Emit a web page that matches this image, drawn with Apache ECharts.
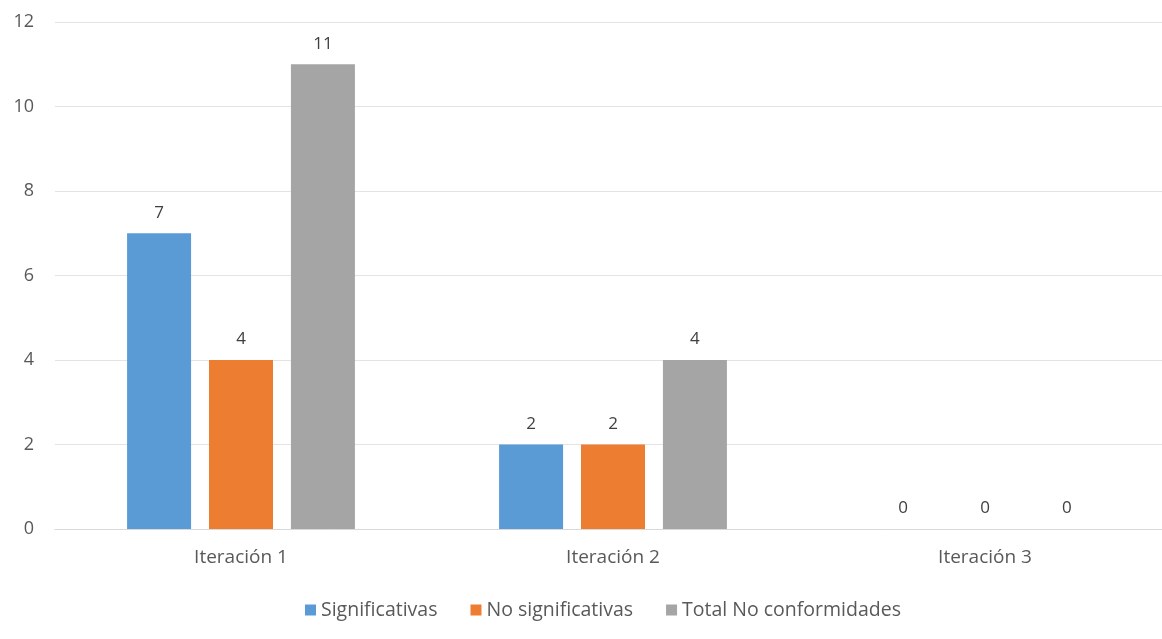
<!DOCTYPE html>
<html>
<head>
<meta charset="utf-8">
<script src="https://cdn.jsdelivr.net/npm/echarts@6/dist/echarts.min.js"></script>
<style>
  html, body { margin: 0; padding: 0; background: #fff; }
  #chart { width: 1162px; height: 639px; }
</style>
</head>
<body>
<div id="chart"></div>
<script>
const categories = ['Iteración 1', 'Iteración 2', 'Iteración 3'];
const significativas = [7, 2, 0];
const noSignificativas = [4, 2, 0];
const totalNoConformidades = [11, 4, 0];
const seriesNames = ['Significativas', 'No significativas', 'Total No conformidades'];
const colors = ['#5b9bd5', '#ed7d31', '#a5a5a5'];

const font = '"Open Sans", "Noto Sans", sans-serif';
const chart = echarts.init(document.getElementById('chart'));

const mkSeries = (name, data, color) => ({
  name, type: 'bar', data,
  barWidth: 64,
  barGap: '28%',
  itemStyle: { color },
  label: {
    show: true, position: 'top', distance: 12,
    color: '#404040', fontFamily: font, fontSize: 17
  }
});

chart.setOption({
  animation: false,
  textStyle: { fontFamily: font },
  // plot area runs a little past the right edge of the canvas
  grid: { left: 55, width: 1116, top: 22, height: 507, outerBoundsMode: 'none' },
  legend: {
    top: 595, left: 300,
    itemWidth: 11, itemHeight: 11, itemGap: 33,
    icon: 'rect',
    textStyle: { color: '#595959', fontSize: 19.5, fontFamily: font },
    data: seriesNames
  },
  xAxis: {
    type: 'category', data: categories,
    axisLine: { lineStyle: { color: '#d9d9d9' } },
    axisTick: { show: false },
    axisLabel: { color: '#595959', fontSize: 19, fontFamily: font, margin: 19 }
  },
  yAxis: {
    type: 'value', min: 0, max: 12, interval: 2,
    axisLine: { show: false }, axisTick: { show: false },
    splitLine: { lineStyle: { color: '#e3e3e3' } },
    axisLabel: { color: '#595959', fontSize: 18, fontFamily: font, margin: 21 }
  },
  series: [
    mkSeries(seriesNames[0], significativas, colors[0]),
    mkSeries(seriesNames[1], noSignificativas, colors[1]),
    mkSeries(seriesNames[2], totalNoConformidades, colors[2])
  ]
});
</script>
</body>
</html>
